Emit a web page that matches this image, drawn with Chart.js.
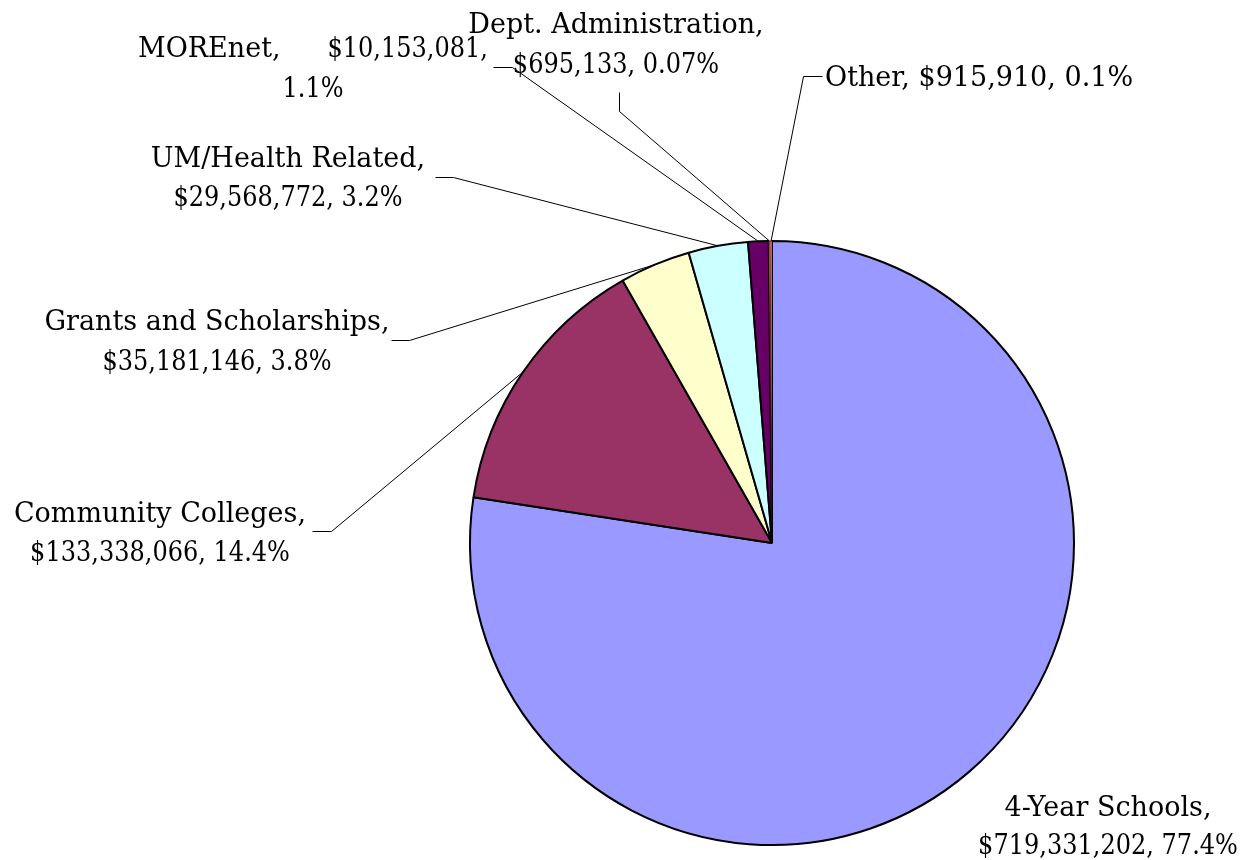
<!DOCTYPE html>
<html>
<head>
<meta charset="utf-8">
<script src="https://cdn.jsdelivr.net/npm/chart.js@4.4.1/dist/chart.umd.min.js"></script>
<style>
  html, body { margin: 0; padding: 0; background: #fff; }
  #wrap { width: 1245px; height: 860px; }
</style>
</head>
<body>
<div id="wrap"><canvas id="pie" width="1245" height="860"></canvas></div>
<script>
// data
var categories = ["4-Year Schools", "Community Colleges", "Grants and Scholarships",
  "UM/Health Related", "MOREnet", "Dept. Administration", "Other"];
var amounts = [719331202, 133338066, 35181146, 29568772, 10153081, 695133, 915910];
var pctLabels = ["77.4%", "14.4%", "3.8%", "3.2%", "1.1%", "0.07%", "0.1%"];
var colors = ["#9999FF", "#993366", "#FFFFCC", "#CCFFFF", "#660066", "#FF8080", "#FF8080"];
var borders = [2, 2, 2, 2, 2, 0.5, 0.5];

// where each label sits (x = text centre, y = baselines), plus its leader stub
var labelLayout = [
  { mode: "two", x: 1108, y: [816, 854], stub: null },
  { mode: "two", x: 160, y: [522, 561], stub: [[312, 531], [331, 531]] },
  { mode: "two", x: 217, y: [330, 370], stub: [[391, 340], [409, 340]] },
  { mode: "two", x: 288, y: [167, 206], stub: [[435, 177], [453, 177]] },
  { mode: "spread", x: 313, left: 138, right: 488, y: [57, 97], stub: [[493, 67], [512, 67]] },
  { mode: "two", x: 616, y: [33, 73], stub: [[619, 92], [619, 111]] },
  { mode: "one", x: 825, y: [86], stub: [[822, 76], [803, 76]] }
];
var digitSqueeze = 0.89; // DejaVu digits run wider than the original's serif

function money(v) {
  return "$" + v.toLocaleString("en-US");
}

function numText(ctx, s, x, y) {
  ctx.fillText(s, x, y, ctx.measureText(s).width * digitSqueeze);
}

var labelPlugin = {
  id: "leaderLabels",
  afterDatasetsDraw: function(chart) {
    var ctx = chart.ctx;
    var arcs = chart.getDatasetMeta(0).data;
    ctx.save();
    ctx.font = "27px 'DejaVu Serif'";
    ctx.fillStyle = "#000";
    ctx.strokeStyle = "#000";
    ctx.lineWidth = 1;
    for (var i = 0; i < arcs.length; i++) {
      var a = arcs[i];
      var L = labelLayout[i];
      var mid = (a.startAngle + a.endAngle) / 2;
      var ax = a.x + Math.cos(mid) * a.outerRadius;
      var ay = a.y + Math.sin(mid) * a.outerRadius;
      if (L.stub) {
        ctx.beginPath();
        ctx.moveTo(L.stub[0][0] + 0.5, L.stub[0][1] + 0.5);
        ctx.lineTo(L.stub[1][0] + 0.5, L.stub[1][1] + 0.5);
        ctx.lineTo(ax, ay);
        ctx.stroke();
      }
      var name = categories[i] + ",";
      var val = money(amounts[i]) + ",";
      var pct = pctLabels[i];
      if (L.mode == "two") {
        ctx.textAlign = "center";
        ctx.fillText(name, L.x, L.y[0]);
        numText(ctx, val + " " + pct, L.x, L.y[1]);
      } else if (L.mode == "spread") {
        ctx.textAlign = "left";
        ctx.fillText(name, L.left, L.y[0]);
        ctx.textAlign = "right";
        numText(ctx, val, L.right, L.y[0]);
        ctx.textAlign = "center";
        numText(ctx, pct, L.x, L.y[1]);
      } else {
        ctx.textAlign = "left";
        ctx.fillText(name + " " + val + " " + pct, L.x, L.y[0]);
      }
    }
    ctx.restore();
  }
};

new Chart(document.getElementById("pie"), {
  type: "pie",
  data: {
    labels: categories,
    datasets: [{
      data: amounts,
      backgroundColor: colors,
      borderColor: "#000",
      borderWidth: borders
    }]
  },
  options: {
    responsive: false,
    animation: false,
    devicePixelRatio: 1,
    layout: { padding: { left: 469, top: 240, right: 170, bottom: 14 } },
    plugins: {
      legend: { display: false },
      tooltip: { enabled: false }
    }
  },
  plugins: [labelPlugin]
});
</script>
</body>
</html>
